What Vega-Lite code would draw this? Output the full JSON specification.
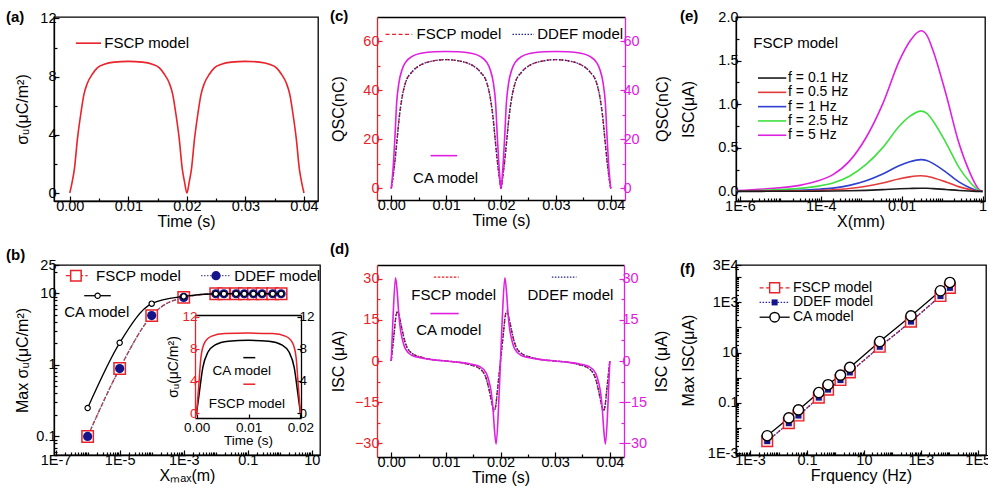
{
"$schema": "https://vega.github.io/schema/vega-lite/v6.json",
"padding": {"left": 5, "top": 8, "right": 0, "bottom": 0},
"columns": 3,
"align": "each",
"spacing": {"row": 11, "column": 9},
"config": {
  "font": "Liberation Sans",
  "view": {"stroke": "#000", "strokeWidth": 1.3},
  "axis": {"grid": false, "domainColor": "#000", "domainWidth": 1.3, "tickColor": "#000", "tickWidth": 1.2, "tickSize": -5, "labelFontSize": 14.5, "labelColor": "#000", "labelPadding": 3, "labelFlush": false, "labelOverlap": false, "labelBound": false, "titleFontSize": 16, "titleFontWeight": "normal", "titleColor": "#000"},
  "axisX": {"titlePadding": 1},
  "title": {"fontSize": 15, "fontWeight": "bold", "anchor": "start", "frame": "bounds", "color": "#000"},
  "text": {"fontSize": 15, "color": "#000"}
},
"datasets": {
  "a": [{"t":0,"v":0},{"t":0.0004,"v":0.75},{"t":0.0008,"v":1.7},{"t":0.0013,"v":3.7},{"t":0.0019,"v":5.5},{"t":0.0024,"v":6.75},{"t":0.003,"v":7.55},{"t":0.0039,"v":8.2},{"t":0.0047,"v":8.6},{"t":0.0059,"v":8.85},{"t":0.0076,"v":9.0},{"t":0.01,"v":9.05},{"t":0.0124,"v":9.0},{"t":0.0141,"v":8.85},{"t":0.0153,"v":8.6},{"t":0.0161,"v":8.2},{"t":0.017,"v":7.55},{"t":0.0176,"v":6.75},{"t":0.0181,"v":5.5},{"t":0.0187,"v":3.7},{"t":0.0192,"v":1.7},{"t":0.0196,"v":0.75},{"t":0.02,"v":0},{"t":0.0204,"v":0.75},{"t":0.0208,"v":1.7},{"t":0.0213,"v":3.7},{"t":0.0219,"v":5.5},{"t":0.0224,"v":6.75},{"t":0.023,"v":7.55},{"t":0.0239,"v":8.2},{"t":0.0247,"v":8.6},{"t":0.0259,"v":8.85},{"t":0.0276,"v":9.0},{"t":0.03,"v":9.05},{"t":0.0324,"v":9.0},{"t":0.0341,"v":8.85},{"t":0.0353,"v":8.6},{"t":0.0361,"v":8.2},{"t":0.037,"v":7.55},{"t":0.0376,"v":6.75},{"t":0.0381,"v":5.5},{"t":0.0387,"v":3.7},{"t":0.0392,"v":1.7},{"t":0.0396,"v":0.75},{"t":0.04,"v":0}],
  "c": [
    {"model":"CA","t":0,"q":0},{"model":"CA","t":0.0003,"q":7.2},{"model":"CA","t":0.00067,"q":21},{"model":"CA","t":0.00098,"q":34.9},{"model":"CA","t":0.0014,"q":43.2},{"model":"CA","t":0.002,"q":48.7},{"model":"CA","t":0.0026,"q":51.5},{"model":"CA","t":0.0038,"q":53.9},{"model":"CA","t":0.0057,"q":55.3},{"model":"CA","t":0.0078,"q":55.8},{"model":"CA","t":0.01,"q":55.9},{"model":"CA","t":0.0122,"q":55.8},{"model":"CA","t":0.0143,"q":55.3},{"model":"CA","t":0.0162,"q":53.9},{"model":"CA","t":0.0174,"q":51.5},{"model":"CA","t":0.018,"q":48.7},{"model":"CA","t":0.0186,"q":43.2},{"model":"CA","t":0.01902,"q":34.9},{"model":"CA","t":0.01933,"q":21},{"model":"CA","t":0.0197,"q":7.2},{"model":"CA","t":0.02,"q":0},{"model":"CA","t":0.0203,"q":7.2},{"model":"CA","t":0.02067,"q":21},{"model":"CA","t":0.02098,"q":34.9},{"model":"CA","t":0.0214,"q":43.2},{"model":"CA","t":0.022,"q":48.7},{"model":"CA","t":0.0226,"q":51.5},{"model":"CA","t":0.0238,"q":53.9},{"model":"CA","t":0.0257,"q":55.3},{"model":"CA","t":0.0278,"q":55.8},{"model":"CA","t":0.03,"q":55.9},{"model":"CA","t":0.0322,"q":55.8},{"model":"CA","t":0.0343,"q":55.3},{"model":"CA","t":0.0362,"q":53.9},{"model":"CA","t":0.0374,"q":51.5},{"model":"CA","t":0.038,"q":48.7},{"model":"CA","t":0.0386,"q":43.2},{"model":"CA","t":0.03902,"q":34.9},{"model":"CA","t":0.03933,"q":21},{"model":"CA","t":0.0397,"q":7.2},{"model":"CA","t":0.04,"q":0},
    {"model":"FSCP","t":0,"q":0},{"model":"FSCP","t":0.0003,"q":4.4},{"model":"FSCP","t":0.00067,"q":11.3},{"model":"FSCP","t":0.0011,"q":21},{"model":"FSCP","t":0.0014,"q":27.9},{"model":"FSCP","t":0.002,"q":37.6},{"model":"FSCP","t":0.0026,"q":43.2},{"model":"FSCP","t":0.0038,"q":47.6},{"model":"FSCP","t":0.0057,"q":50.8},{"model":"FSCP","t":0.0075,"q":52},{"model":"FSCP","t":0.01,"q":52.6},{"model":"FSCP","t":0.0125,"q":52},{"model":"FSCP","t":0.0143,"q":50.8},{"model":"FSCP","t":0.0162,"q":47.6},{"model":"FSCP","t":0.0174,"q":43.2},{"model":"FSCP","t":0.018,"q":37.6},{"model":"FSCP","t":0.0186,"q":27.9},{"model":"FSCP","t":0.0189,"q":21},{"model":"FSCP","t":0.01933,"q":11.3},{"model":"FSCP","t":0.0197,"q":4.4},{"model":"FSCP","t":0.02,"q":0},{"model":"FSCP","t":0.0203,"q":4.4},{"model":"FSCP","t":0.02067,"q":11.3},{"model":"FSCP","t":0.0211,"q":21},{"model":"FSCP","t":0.0214,"q":27.9},{"model":"FSCP","t":0.022,"q":37.6},{"model":"FSCP","t":0.0226,"q":43.2},{"model":"FSCP","t":0.0238,"q":47.6},{"model":"FSCP","t":0.0257,"q":50.8},{"model":"FSCP","t":0.0275,"q":52},{"model":"FSCP","t":0.03,"q":52.6},{"model":"FSCP","t":0.0325,"q":52},{"model":"FSCP","t":0.0343,"q":50.8},{"model":"FSCP","t":0.0362,"q":47.6},{"model":"FSCP","t":0.0374,"q":43.2},{"model":"FSCP","t":0.038,"q":37.6},{"model":"FSCP","t":0.0386,"q":27.9},{"model":"FSCP","t":0.0389,"q":21},{"model":"FSCP","t":0.03933,"q":11.3},{"model":"FSCP","t":0.0397,"q":4.4},{"model":"FSCP","t":0.04,"q":0},
    {"model":"DDEF","t":0,"q":0},{"model":"DDEF","t":0.0003,"q":4.4},{"model":"DDEF","t":0.00067,"q":11.3},{"model":"DDEF","t":0.0011,"q":21},{"model":"DDEF","t":0.0014,"q":27.9},{"model":"DDEF","t":0.002,"q":37.6},{"model":"DDEF","t":0.0026,"q":43.2},{"model":"DDEF","t":0.0038,"q":47.6},{"model":"DDEF","t":0.0057,"q":50.8},{"model":"DDEF","t":0.0075,"q":52},{"model":"DDEF","t":0.01,"q":52.6},{"model":"DDEF","t":0.0125,"q":52},{"model":"DDEF","t":0.0143,"q":50.8},{"model":"DDEF","t":0.0162,"q":47.6},{"model":"DDEF","t":0.0174,"q":43.2},{"model":"DDEF","t":0.018,"q":37.6},{"model":"DDEF","t":0.0186,"q":27.9},{"model":"DDEF","t":0.0189,"q":21},{"model":"DDEF","t":0.01933,"q":11.3},{"model":"DDEF","t":0.0197,"q":4.4},{"model":"DDEF","t":0.02,"q":0},{"model":"DDEF","t":0.0203,"q":4.4},{"model":"DDEF","t":0.02067,"q":11.3},{"model":"DDEF","t":0.0211,"q":21},{"model":"DDEF","t":0.0214,"q":27.9},{"model":"DDEF","t":0.022,"q":37.6},{"model":"DDEF","t":0.0226,"q":43.2},{"model":"DDEF","t":0.0238,"q":47.6},{"model":"DDEF","t":0.0257,"q":50.8},{"model":"DDEF","t":0.0275,"q":52},{"model":"DDEF","t":0.03,"q":52.6},{"model":"DDEF","t":0.0325,"q":52},{"model":"DDEF","t":0.0343,"q":50.8},{"model":"DDEF","t":0.0362,"q":47.6},{"model":"DDEF","t":0.0374,"q":43.2},{"model":"DDEF","t":0.038,"q":37.6},{"model":"DDEF","t":0.0386,"q":27.9},{"model":"DDEF","t":0.0389,"q":21},{"model":"DDEF","t":0.03933,"q":11.3},{"model":"DDEF","t":0.0397,"q":4.4},{"model":"DDEF","t":0.04,"q":0}
  ],
  "d": [
    {"model":"CA","t":0,"i":0},{"model":"CA","t":0.0003,"i":14.3},{"model":"CA","t":0.0008,"i":30.3},{"model":"CA","t":0.0011,"i":25.2},{"model":"CA","t":0.0014,"i":16.7},{"model":"CA","t":0.0017,"i":11.3},{"model":"CA","t":0.002,"i":8.3},{"model":"CA","t":0.0026,"i":4.4},{"model":"CA","t":0.0038,"i":2.0},{"model":"CA","t":0.0057,"i":1.0},{"model":"CA","t":0.0075,"i":0.5},{"model":"CA","t":0.01,"i":0},{"model":"CA","t":0.0125,"i":-0.5},{"model":"CA","t":0.0143,"i":-1.0},{"model":"CA","t":0.0162,"i":-2.0},{"model":"CA","t":0.0174,"i":-4.4},{"model":"CA","t":0.018,"i":-8.3},{"model":"CA","t":0.0183,"i":-11.3},{"model":"CA","t":0.0186,"i":-16.7},{"model":"CA","t":0.0189,"i":-25.2},{"model":"CA","t":0.0192,"i":-30.3},{"model":"CA","t":0.0197,"i":-14.3},{"model":"CA","t":0.02,"i":0},{"model":"CA","t":0.0203,"i":14.3},{"model":"CA","t":0.0208,"i":30.3},{"model":"CA","t":0.0211,"i":25.2},{"model":"CA","t":0.0214,"i":16.7},{"model":"CA","t":0.0217,"i":11.3},{"model":"CA","t":0.022,"i":8.3},{"model":"CA","t":0.0226,"i":4.4},{"model":"CA","t":0.0238,"i":2.0},{"model":"CA","t":0.0257,"i":1.0},{"model":"CA","t":0.0275,"i":0.5},{"model":"CA","t":0.03,"i":0},{"model":"CA","t":0.0325,"i":-0.5},{"model":"CA","t":0.0343,"i":-1.0},{"model":"CA","t":0.0362,"i":-2.0},{"model":"CA","t":0.0374,"i":-4.4},{"model":"CA","t":0.038,"i":-8.3},{"model":"CA","t":0.0383,"i":-11.3},{"model":"CA","t":0.0386,"i":-16.7},{"model":"CA","t":0.0389,"i":-25.2},{"model":"CA","t":0.0392,"i":-30.3},{"model":"CA","t":0.0397,"i":-14.3},{"model":"CA","t":0.04,"i":0},
    {"model":"FSCP","t":0,"i":0},{"model":"FSCP","t":0.0005,"i":9.5},{"model":"FSCP","t":0.0009,"i":16.7},{"model":"FSCP","t":0.0012,"i":18.2},{"model":"FSCP","t":0.0015,"i":16.1},{"model":"FSCP","t":0.002,"i":11.3},{"model":"FSCP","t":0.0026,"i":6.5},{"model":"FSCP","t":0.0038,"i":2.8},{"model":"FSCP","t":0.0057,"i":1.3},{"model":"FSCP","t":0.0075,"i":0.5},{"model":"FSCP","t":0.01,"i":0},{"model":"FSCP","t":0.0125,"i":-0.5},{"model":"FSCP","t":0.0143,"i":-1.3},{"model":"FSCP","t":0.0162,"i":-2.8},{"model":"FSCP","t":0.0174,"i":-6.5},{"model":"FSCP","t":0.018,"i":-11.3},{"model":"FSCP","t":0.0185,"i":-16.1},{"model":"FSCP","t":0.0188,"i":-18.2},{"model":"FSCP","t":0.0191,"i":-16.7},{"model":"FSCP","t":0.0195,"i":-9.5},{"model":"FSCP","t":0.02,"i":0},{"model":"FSCP","t":0.0205,"i":9.5},{"model":"FSCP","t":0.0209,"i":16.7},{"model":"FSCP","t":0.0212,"i":18.2},{"model":"FSCP","t":0.0215,"i":16.1},{"model":"FSCP","t":0.022,"i":11.3},{"model":"FSCP","t":0.0226,"i":6.5},{"model":"FSCP","t":0.0238,"i":2.8},{"model":"FSCP","t":0.0257,"i":1.3},{"model":"FSCP","t":0.0275,"i":0.5},{"model":"FSCP","t":0.03,"i":0},{"model":"FSCP","t":0.0325,"i":-0.5},{"model":"FSCP","t":0.0343,"i":-1.3},{"model":"FSCP","t":0.0362,"i":-2.8},{"model":"FSCP","t":0.0374,"i":-6.5},{"model":"FSCP","t":0.038,"i":-11.3},{"model":"FSCP","t":0.0385,"i":-16.1},{"model":"FSCP","t":0.0388,"i":-18.2},{"model":"FSCP","t":0.0391,"i":-16.7},{"model":"FSCP","t":0.0395,"i":-9.5},{"model":"FSCP","t":0.04,"i":0},
    {"model":"DDEF","t":0,"i":0},{"model":"DDEF","t":0.0005,"i":9.5},{"model":"DDEF","t":0.0009,"i":16.7},{"model":"DDEF","t":0.0012,"i":18.2},{"model":"DDEF","t":0.0015,"i":16.1},{"model":"DDEF","t":0.002,"i":11.3},{"model":"DDEF","t":0.0026,"i":6.5},{"model":"DDEF","t":0.0038,"i":2.8},{"model":"DDEF","t":0.0057,"i":1.3},{"model":"DDEF","t":0.0075,"i":0.5},{"model":"DDEF","t":0.01,"i":0},{"model":"DDEF","t":0.0125,"i":-0.5},{"model":"DDEF","t":0.0143,"i":-1.3},{"model":"DDEF","t":0.0162,"i":-2.8},{"model":"DDEF","t":0.0174,"i":-6.5},{"model":"DDEF","t":0.018,"i":-11.3},{"model":"DDEF","t":0.0185,"i":-16.1},{"model":"DDEF","t":0.0188,"i":-18.2},{"model":"DDEF","t":0.0191,"i":-16.7},{"model":"DDEF","t":0.0195,"i":-9.5},{"model":"DDEF","t":0.02,"i":0},{"model":"DDEF","t":0.0205,"i":9.5},{"model":"DDEF","t":0.0209,"i":16.7},{"model":"DDEF","t":0.0212,"i":18.2},{"model":"DDEF","t":0.0215,"i":16.1},{"model":"DDEF","t":0.022,"i":11.3},{"model":"DDEF","t":0.0226,"i":6.5},{"model":"DDEF","t":0.0238,"i":2.8},{"model":"DDEF","t":0.0257,"i":1.3},{"model":"DDEF","t":0.0275,"i":0.5},{"model":"DDEF","t":0.03,"i":0},{"model":"DDEF","t":0.0325,"i":-0.5},{"model":"DDEF","t":0.0343,"i":-1.3},{"model":"DDEF","t":0.0362,"i":-2.8},{"model":"DDEF","t":0.0374,"i":-6.5},{"model":"DDEF","t":0.038,"i":-11.3},{"model":"DDEF","t":0.0385,"i":-16.1},{"model":"DDEF","t":0.0388,"i":-18.2},{"model":"DDEF","t":0.0391,"i":-16.7},{"model":"DDEF","t":0.0395,"i":-9.5},{"model":"DDEF","t":0.04,"i":0}
  ],
  "b": [
    {"model":"FSCP","x":1e-6,"v":0.1},{"model":"FSCP","x":1e-5,"v":0.89},{"model":"FSCP","x":1e-4,"v":4.9},{"model":"FSCP","x":1e-3,"v":8.8},{"model":"FSCP","x":0.01,"v":9.9},{"model":"FSCP","x":0.018,"v":9.9},{"model":"FSCP","x":0.043,"v":9.9},{"model":"FSCP","x":0.078,"v":9.9},{"model":"FSCP","x":0.15,"v":9.9},{"model":"FSCP","x":0.28,"v":9.9},{"model":"FSCP","x":0.6,"v":9.9},{"model":"FSCP","x":1.1,"v":9.9},
    {"model":"DDEF","x":1e-6,"v":0.1},{"model":"DDEF","x":1e-5,"v":0.89},{"model":"DDEF","x":1e-4,"v":4.9},{"model":"DDEF","x":1e-3,"v":8.8},{"model":"DDEF","x":0.01,"v":9.9},{"model":"DDEF","x":0.018,"v":9.9},{"model":"DDEF","x":0.043,"v":9.9},{"model":"DDEF","x":0.078,"v":9.9},{"model":"DDEF","x":0.15,"v":9.9},{"model":"DDEF","x":0.28,"v":9.9},{"model":"DDEF","x":0.6,"v":9.9},{"model":"DDEF","x":1.1,"v":9.9},
    {"model":"CA","x":1e-6,"v":0.25},{"model":"CA","x":1e-5,"v":2.04},{"model":"CA","x":1e-4,"v":7.2},{"model":"CA","x":1e-3,"v":9.1},{"model":"CA","x":0.01,"v":9.9},{"model":"CA","x":0.018,"v":9.9},{"model":"CA","x":0.043,"v":9.9},{"model":"CA","x":0.078,"v":9.9},{"model":"CA","x":0.15,"v":9.9},{"model":"CA","x":0.28,"v":9.9},{"model":"CA","x":0.6,"v":9.9},{"model":"CA","x":1.1,"v":9.9}
  ],
  "binset": [
    {"model":"FSCP","t":0,"v":0},{"model":"FSCP","t":0.0004,"v":3.2},{"model":"FSCP","t":0.00084,"v":6.9},{"model":"FSCP","t":0.0015,"v":8.7},{"model":"FSCP","t":0.0028,"v":9.55},{"model":"FSCP","t":0.0054,"v":9.9},{"model":"FSCP","t":0.01,"v":9.95},{"model":"FSCP","t":0.0146,"v":9.9},{"model":"FSCP","t":0.0172,"v":9.55},{"model":"FSCP","t":0.0185,"v":8.7},{"model":"FSCP","t":0.01916,"v":6.9},{"model":"FSCP","t":0.0196,"v":3.2},{"model":"FSCP","t":0.02,"v":0},
    {"model":"CA","t":0,"v":0},{"model":"CA","t":0.0005,"v":2.4},{"model":"CA","t":0.0012,"v":5.65},{"model":"CA","t":0.0022,"v":7.6},{"model":"CA","t":0.0035,"v":8.45},{"model":"CA","t":0.0061,"v":8.95},{"model":"CA","t":0.01,"v":9.05},{"model":"CA","t":0.0139,"v":8.95},{"model":"CA","t":0.0165,"v":8.45},{"model":"CA","t":0.0178,"v":7.6},{"model":"CA","t":0.0188,"v":5.65},{"model":"CA","t":0.0195,"v":2.4},{"model":"CA","t":0.02,"v":0}
  ],
  "e": [
    {"f":"f = 5 Hz","x":8e-7,"i":0.01},{"f":"f = 5 Hz","x":4.5e-6,"i":0.03},{"f":"f = 5 Hz","x":3.0e-5,"i":0.069},{"f":"f = 5 Hz","x":7.8e-5,"i":0.116},{"f":"f = 5 Hz","x":2.0e-4,"i":0.193},{"f":"f = 5 Hz","x":5.1e-4,"i":0.347},{"f":"f = 5 Hz","x":1.32e-3,"i":0.618},{"f":"f = 5 Hz","x":3.4e-3,"i":1.004},{"f":"f = 5 Hz","x":8.9e-3,"i":1.506},{"f":"f = 5 Hz","x":0.0158,"i":1.72},{"f":"f = 5 Hz","x":0.03,"i":1.842},{"f":"f = 5 Hz","x":0.042,"i":1.79},{"f":"f = 5 Hz","x":0.059,"i":1.622},{"f":"f = 5 Hz","x":0.124,"i":1.119},{"f":"f = 5 Hz","x":0.266,"i":0.54},{"f":"f = 5 Hz","x":0.468,"i":0.232},{"f":"f = 5 Hz","x":0.83,"i":0.019},{"f":"f = 5 Hz","x":1.0,"i":0},
    {"f":"f = 2.5 Hz","x":8e-7,"i":0.005},{"f":"f = 2.5 Hz","x":4.5e-6,"i":0.015},{"f":"f = 2.5 Hz","x":3.0e-5,"i":0.035},{"f":"f = 2.5 Hz","x":7.8e-5,"i":0.058},{"f":"f = 2.5 Hz","x":2.0e-4,"i":0.097},{"f":"f = 2.5 Hz","x":5.1e-4,"i":0.174},{"f":"f = 2.5 Hz","x":1.32e-3,"i":0.309},{"f":"f = 2.5 Hz","x":3.4e-3,"i":0.502},{"f":"f = 2.5 Hz","x":8.9e-3,"i":0.753},{"f":"f = 2.5 Hz","x":0.0158,"i":0.86},{"f":"f = 2.5 Hz","x":0.03,"i":0.921},{"f":"f = 2.5 Hz","x":0.042,"i":0.895},{"f":"f = 2.5 Hz","x":0.059,"i":0.811},{"f":"f = 2.5 Hz","x":0.124,"i":0.56},{"f":"f = 2.5 Hz","x":0.266,"i":0.27},{"f":"f = 2.5 Hz","x":0.468,"i":0.116},{"f":"f = 2.5 Hz","x":0.83,"i":0.01},{"f":"f = 2.5 Hz","x":1.0,"i":0},
    {"f":"f = 1 Hz","x":8e-7,"i":0.002},{"f":"f = 1 Hz","x":4.5e-6,"i":0.006},{"f":"f = 1 Hz","x":3.0e-5,"i":0.014},{"f":"f = 1 Hz","x":7.8e-5,"i":0.023},{"f":"f = 1 Hz","x":2.0e-4,"i":0.038},{"f":"f = 1 Hz","x":5.1e-4,"i":0.069},{"f":"f = 1 Hz","x":1.32e-3,"i":0.122},{"f":"f = 1 Hz","x":3.4e-3,"i":0.199},{"f":"f = 1 Hz","x":8.9e-3,"i":0.298},{"f":"f = 1 Hz","x":0.0158,"i":0.341},{"f":"f = 1 Hz","x":0.03,"i":0.365},{"f":"f = 1 Hz","x":0.042,"i":0.354},{"f":"f = 1 Hz","x":0.059,"i":0.321},{"f":"f = 1 Hz","x":0.124,"i":0.222},{"f":"f = 1 Hz","x":0.266,"i":0.107},{"f":"f = 1 Hz","x":0.468,"i":0.046},{"f":"f = 1 Hz","x":0.83,"i":0.004},{"f":"f = 1 Hz","x":1.0,"i":0},
    {"f":"f = 0.5 Hz","x":8e-7,"i":0.001},{"f":"f = 0.5 Hz","x":4.5e-6,"i":0.003},{"f":"f = 0.5 Hz","x":3.0e-5,"i":0.007},{"f":"f = 0.5 Hz","x":7.8e-5,"i":0.011},{"f":"f = 0.5 Hz","x":2.0e-4,"i":0.019},{"f":"f = 0.5 Hz","x":5.1e-4,"i":0.034},{"f":"f = 0.5 Hz","x":1.32e-3,"i":0.06},{"f":"f = 0.5 Hz","x":3.4e-3,"i":0.097},{"f":"f = 0.5 Hz","x":8.9e-3,"i":0.146},{"f":"f = 0.5 Hz","x":0.0158,"i":0.167},{"f":"f = 0.5 Hz","x":0.03,"i":0.179},{"f":"f = 0.5 Hz","x":0.042,"i":0.174},{"f":"f = 0.5 Hz","x":0.059,"i":0.157},{"f":"f = 0.5 Hz","x":0.124,"i":0.109},{"f":"f = 0.5 Hz","x":0.266,"i":0.052},{"f":"f = 0.5 Hz","x":0.468,"i":0.023},{"f":"f = 0.5 Hz","x":0.83,"i":0.002},{"f":"f = 0.5 Hz","x":1.0,"i":0},
    {"f":"f = 0.1 Hz","x":8e-7,"i":0},{"f":"f = 0.1 Hz","x":4.5e-6,"i":0.001},{"f":"f = 0.1 Hz","x":3.0e-5,"i":0.001},{"f":"f = 0.1 Hz","x":7.8e-5,"i":0.002},{"f":"f = 0.1 Hz","x":2.0e-4,"i":0.004},{"f":"f = 0.1 Hz","x":5.1e-4,"i":0.007},{"f":"f = 0.1 Hz","x":1.32e-3,"i":0.012},{"f":"f = 0.1 Hz","x":3.4e-3,"i":0.02},{"f":"f = 0.1 Hz","x":8.9e-3,"i":0.03},{"f":"f = 0.1 Hz","x":0.0158,"i":0.034},{"f":"f = 0.1 Hz","x":0.03,"i":0.037},{"f":"f = 0.1 Hz","x":0.042,"i":0.036},{"f":"f = 0.1 Hz","x":0.059,"i":0.032},{"f":"f = 0.1 Hz","x":0.124,"i":0.022},{"f":"f = 0.1 Hz","x":0.266,"i":0.011},{"f":"f = 0.1 Hz","x":0.468,"i":0.005},{"f":"f = 0.1 Hz","x":0.83,"i":0},{"f":"f = 0.1 Hz","x":1.0,"i":0}
  ],
  "f": [
    {"model":"FSCP","freq":0.004,"i":0.00306},{"model":"FSCP","freq":0.023,"i":0.0158},{"model":"FSCP","freq":0.05,"i":0.0318},{"model":"FSCP","freq":0.26,"i":0.163},{"model":"FSCP","freq":0.55,"i":0.339},{"model":"FSCP","freq":1.5,"i":0.813},{"model":"FSCP","freq":3.2,"i":1.63},{"model":"FSCP","freq":36,"i":17},{"model":"FSCP","freq":450,"i":170},{"model":"FSCP","freq":4900,"i":1758},{"model":"FSCP","freq":10500,"i":3715},
    {"model":"DDEF","freq":0.004,"i":0.00306},{"model":"DDEF","freq":0.023,"i":0.0158},{"model":"DDEF","freq":0.05,"i":0.0318},{"model":"DDEF","freq":0.26,"i":0.163},{"model":"DDEF","freq":0.55,"i":0.339},{"model":"DDEF","freq":1.5,"i":0.813},{"model":"DDEF","freq":3.2,"i":1.63},{"model":"DDEF","freq":36,"i":17},{"model":"DDEF","freq":450,"i":170},{"model":"DDEF","freq":4900,"i":1758},{"model":"DDEF","freq":10500,"i":3715},
    {"model":"CA","freq":0.004,"i":0.005},{"model":"CA","freq":0.023,"i":0.0255},{"model":"CA","freq":0.05,"i":0.053},{"model":"CA","freq":0.26,"i":0.26},{"model":"CA","freq":0.55,"i":0.53},{"model":"CA","freq":1.5,"i":1.28},{"model":"CA","freq":3.2,"i":2.58},{"model":"CA","freq":36,"i":27.5},{"model":"CA","freq":450,"i":285},{"model":"CA","freq":4900,"i":2850},{"model":"CA","freq":10500,"i":6070}
  ]
},
"concat": [
  {
    "width": 264, "height": 184,
    "title": {"text": "(a)", "offset": -15, "dx": -8},
    "layer": [
      {"data": {"name": "a"},
       "mark": {"type": "line", "color": "#e8232a", "strokeWidth": 1.6, "interpolate": "monotone"},
       "encoding": {
         "x": {"field": "t", "type": "quantitative", "scale": {"domain": [-0.0027, 0.0424], "nice": false, "zero": false}, "axis": {"orient": "bottom", "values": [0, 0.01, 0.02, 0.03, 0.04], "format": ".2f", "title": "Time (s)"}},
         "y": {"field": "v", "type": "quantitative", "scale": {"domain": [-0.55, 12.1], "nice": false, "zero": false}, "axis": {"orient": "left", "values": [0, 4, 8, 12], "title": "σᵤ(μC/m²)", "minExtent": 22, "maxExtent": 22, "titlePadding": 2}}
       }},
      {"data": {"values": [{"label": "FSCP model"}]},
       "mark": {"type": "rule", "color": "#e8232a", "strokeWidth": 1.6},
       "encoding": {"x": {"datum": 0.00103, "type": "quantitative", "axis": {"orient": "bottom", "values": [0.005, 0.015, 0.025, 0.035], "labels": false, "domain": false, "title": null, "tickSize": -3, "minExtent": 0}}, "x2": {"datum": 0.00533}, "y": {"datum": 10.3, "type": "quantitative", "axis": {"orient": "left", "values": [2, 6, 10], "labels": false, "domain": false, "title": null, "tickSize": -3, "minExtent": 0}}}},
      {"data": {"values": [{"label": "FSCP model"}]},
       "mark": {"type": "text", "align": "left", "baseline": "middle", "fontSize": 15},
       "encoding": {"x": {"datum": 0.0059, "type": "quantitative", "axis": null}, "y": {"datum": 10.3, "type": "quantitative", "axis": null}, "text": {"field": "label"}}}
    ],
    "resolve": {"axis": {"x": "independent", "y": "independent"}}
  },
  {
    "width": 248, "height": 183,
    "title": {"text": "(c)", "offset": -6.5},
    "view": {"stroke": null},
    "data": {"name": "c"},
    "layer": [
      {"transform": [{"filter": "datum.model == 'FSCP'"}],
       "mark": {"type": "line", "color": "#e8232a", "strokeDash": [4, 2.5], "strokeWidth": 1.4, "interpolate": "monotone"},
       "encoding": {
         "x": {"field": "t", "type": "quantitative", "scale": {"domain": [-0.0026, 0.0426], "nice": false, "zero": false}, "axis": {"orient": "bottom", "values": [0, 0.01, 0.02, 0.03, 0.04], "format": ".2f", "title": "Time (s)"}},
         "y": {"field": "q", "type": "quantitative", "scale": {"domain": [-4.7, 70], "nice": false, "zero": false}, "axis": {"orient": "left", "values": [0, 20, 40, 60], "title": "QSC(nC)", "domainColor": "#e8232a", "tickColor": "#e8232a", "labelColor": "#e8232a", "minExtent": 26, "maxExtent": 26, "titlePadding": 5}}
       }},
      {"transform": [{"filter": "datum.model == 'DDEF'"}],
       "mark": {"type": "line", "color": "#22228c", "strokeDash": [1.5, 1.5], "strokeWidth": 1.4, "interpolate": "monotone"},
       "encoding": {
         "x": {"field": "t", "type": "quantitative", "axis": null},
         "y": {"field": "q", "type": "quantitative", "axis": null}
       }},
      {"transform": [{"filter": "datum.model == 'CA'"}],
       "mark": {"type": "line", "color": "#e020e0", "strokeWidth": 1.6, "interpolate": "monotone"},
       "encoding": {
         "x": {"field": "t", "type": "quantitative", "axis": {"orient": "top", "labels": false, "ticks": false, "title": null}},
         "y": {"field": "q", "type": "quantitative", "axis": {"orient": "right", "values": [0, 20, 40, 60], "title": "QSC(nC)", "domainColor": "#e020e0", "tickColor": "#e020e0", "labelColor": "#e020e0", "minExtent": 26, "maxExtent": 26, "titlePadding": 3, "titleAngle": -90, "titleBaseline": "top"}}
       }},
      {"data": {"values": [{"label": "FSCP model"}]},
       "mark": {"type": "rule", "color": "#e8232a", "strokeDash": [4, 2.5], "strokeWidth": 1.4},
       "encoding": {"x": {"datum": -0.00104, "type": "quantitative", "axis": {"orient": "bottom", "values": [0.005, 0.015, 0.025, 0.035], "labels": false, "domain": false, "title": null, "tickSize": -3, "minExtent": 0}}, "x2": {"datum": 0.00383}, "y": {"datum": 62.9, "type": "quantitative", "axis": {"orient": "left", "values": [10, 30, 50], "labels": false, "domain": false, "title": null, "tickSize": -3, "tickColor": "#e8232a", "minExtent": 0}}}},
      {"data": {"values": [{"label": "FSCP model"}]},
       "mark": {"type": "text", "align": "left", "baseline": "middle"},
       "encoding": {"x": {"datum": 0.0046, "type": "quantitative", "axis": null}, "y": {"datum": 62.9, "type": "quantitative", "axis": {"orient": "right", "values": [10, 30, 50], "labels": false, "domain": false, "title": null, "tickSize": -3, "tickColor": "#e020e0", "minExtent": 0}}, "text": {"field": "label"}}},
      {"data": {"values": [{"label": "DDEF model"}]},
       "mark": {"type": "rule", "color": "#22228c", "strokeDash": [1.5, 1.5], "strokeWidth": 1.4},
       "encoding": {"x": {"datum": 0.0221, "type": "quantitative", "axis": null}, "x2": {"datum": 0.026}, "y": {"datum": 62.9, "type": "quantitative", "axis": null}}},
      {"data": {"values": [{"label": "DDEF model"}]},
       "mark": {"type": "text", "align": "left", "baseline": "middle"},
       "encoding": {"x": {"datum": 0.0266, "type": "quantitative", "axis": null}, "y": {"datum": 62.9, "type": "quantitative", "axis": null}, "text": {"field": "label"}}},
      {"data": {"values": [{"label": "CA model"}]},
       "mark": {"type": "rule", "color": "#e020e0", "strokeWidth": 1.6},
       "encoding": {"x": {"datum": 0.00717, "type": "quantitative", "axis": null}, "x2": {"datum": 0.012}, "y": {"datum": 13.4, "type": "quantitative", "axis": null}}},
      {"data": {"values": [{"label": "CA model"}]},
       "mark": {"type": "text", "align": "center", "baseline": "middle"},
       "encoding": {"x": {"datum": 0.0099, "type": "quantitative", "axis": null}, "y": {"datum": 4.4, "type": "quantitative", "axis": null}, "text": {"field": "label"}}}
    ],
    "resolve": {"axis": {"x": "independent", "y": "independent"}}
  },
  {
    "width": 249, "height": 184,
    "title": {"text": "(e)", "offset": -15},
    "layer": [
      {"data": {"name": "e"},
       "mark": {"type": "line", "strokeWidth": 1.6, "interpolate": "monotone"},
       "encoding": {
         "x": {"field": "x", "type": "quantitative", "scale": {"type": "log", "domain": [8e-7, 1.15], "nice": false}, "axis": {"orient": "bottom", "values": [1e-6, 1e-4, 0.01, 1], "labelExpr": "datum.value < 0.001 ? '1E' + round(log(datum.value) / LN10) : format(datum.value, '~g')", "title": "X(mm)"}},
         "y": {"field": "i", "type": "quantitative", "scale": {"domain": [-0.11, 2.0], "nice": false, "zero": false}, "axis": {"orient": "left", "values": [0, 0.5, 1, 1.5, 2], "format": ".1f", "title": "ISC(μA)", "minExtent": 34, "maxExtent": 34, "titlePadding": 6}},
         "color": {"field": "f", "type": "nominal", "scale": {"domain": ["f = 0.1 Hz", "f = 0.5 Hz", "f = 1 Hz", "f = 2.5 Hz", "f = 5 Hz"], "range": ["#1a1a1a", "#e33b3b", "#2f3fd0", "#3fe03f", "#e020e0"]}, "legend": null}
       }},
      {"data": {"values": [{"label": "FSCP model"}]},
       "mark": {"type": "text", "align": "left", "baseline": "middle"},
       "encoding": {"x": {"datum": 2.14e-6, "type": "quantitative", "axis": {"orient": "bottom", "values": [9e-7,2e-6,3e-6,4e-6,5e-6,6e-6,7e-6,8e-6,9e-6,1e-5,2e-5,3e-5,4e-5,5e-5,6e-5,7e-5,8e-5,9e-5,2e-4,3e-4,4e-4,5e-4,6e-4,7e-4,8e-4,9e-4,1e-3,2e-3,3e-3,4e-3,5e-3,6e-3,7e-3,8e-3,9e-3,0.02,0.03,0.04,0.05,0.06,0.07,0.08,0.09,0.1,0.2,0.3,0.4,0.5,0.6,0.7,0.8,0.9], "labels": false, "domain": false, "title": null, "tickSize": -3, "minExtent": 0}}, "y": {"datum": 1.70, "type": "quantitative", "axis": {"orient": "left", "values": [0.25, 0.75, 1.25, 1.75], "labels": false, "domain": false, "title": null, "tickSize": -3, "minExtent": 0}}, "text": {"field": "label"}}},
      {"data": {"values": [{"label": "f = 0.1 Hz"}]},
       "mark": {"type": "rule", "color": "#1a1a1a", "strokeWidth": 1.6},
       "encoding": {"x": {"datum": 2.8e-6, "type": "quantitative", "axis": null}, "x2": {"datum": 1.4e-5}, "y": {"datum": 1.30, "type": "quantitative", "axis": null}}},
      {"data": {"values": [{"label": "f = 0.1 Hz"}]},
       "mark": {"type": "text", "align": "left", "baseline": "middle", "fontSize": 14},
       "encoding": {"x": {"datum": 1.55e-5, "type": "quantitative", "axis": null}, "y": {"datum": 1.30, "type": "quantitative", "axis": null}, "text": {"field": "label"}}},
      {"data": {"values": [{"label": "f = 0.5 Hz"}]},
       "mark": {"type": "rule", "color": "#e33b3b", "strokeWidth": 1.6},
       "encoding": {"x": {"datum": 2.8e-6, "type": "quantitative", "axis": null}, "x2": {"datum": 1.4e-5}, "y": {"datum": 1.136, "type": "quantitative", "axis": null}}},
      {"data": {"values": [{"label": "f = 0.5 Hz"}]},
       "mark": {"type": "text", "align": "left", "baseline": "middle", "fontSize": 14},
       "encoding": {"x": {"datum": 1.55e-5, "type": "quantitative", "axis": null}, "y": {"datum": 1.136, "type": "quantitative", "axis": null}, "text": {"field": "label"}}},
      {"data": {"values": [{"label": "f = 1 Hz"}]},
       "mark": {"type": "rule", "color": "#2f3fd0", "strokeWidth": 1.6},
       "encoding": {"x": {"datum": 2.8e-6, "type": "quantitative", "axis": null}, "x2": {"datum": 1.4e-5}, "y": {"datum": 0.972, "type": "quantitative", "axis": null}}},
      {"data": {"values": [{"label": "f = 1 Hz"}]},
       "mark": {"type": "text", "align": "left", "baseline": "middle", "fontSize": 14},
       "encoding": {"x": {"datum": 1.55e-5, "type": "quantitative", "axis": null}, "y": {"datum": 0.972, "type": "quantitative", "axis": null}, "text": {"field": "label"}}},
      {"data": {"values": [{"label": "f = 2.5 Hz"}]},
       "mark": {"type": "rule", "color": "#3fe03f", "strokeWidth": 1.6},
       "encoding": {"x": {"datum": 2.8e-6, "type": "quantitative", "axis": null}, "x2": {"datum": 1.4e-5}, "y": {"datum": 0.808, "type": "quantitative", "axis": null}}},
      {"data": {"values": [{"label": "f = 2.5 Hz"}]},
       "mark": {"type": "text", "align": "left", "baseline": "middle", "fontSize": 14},
       "encoding": {"x": {"datum": 1.55e-5, "type": "quantitative", "axis": null}, "y": {"datum": 0.808, "type": "quantitative", "axis": null}, "text": {"field": "label"}}},
      {"data": {"values": [{"label": "f = 5 Hz"}]},
       "mark": {"type": "rule", "color": "#e020e0", "strokeWidth": 1.6},
       "encoding": {"x": {"datum": 2.8e-6, "type": "quantitative", "axis": null}, "x2": {"datum": 1.4e-5}, "y": {"datum": 0.644, "type": "quantitative", "axis": null}}},
      {"data": {"values": [{"label": "f = 5 Hz"}]},
       "mark": {"type": "text", "align": "left", "baseline": "middle", "fontSize": 14},
       "encoding": {"x": {"datum": 1.55e-5, "type": "quantitative", "axis": null}, "y": {"datum": 0.644, "type": "quantitative", "axis": null}, "text": {"field": "label"}}}
    ],
    "resolve": {"axis": {"x": "independent", "y": "independent"}}
  },
  {
    "width": 266, "height": 190,
    "title": {"text": "(b)", "offset": -5.5, "dx": -8},
    "layer": [
      {
        "data": {"name": "b"},
        "layer": [
          {"transform": [{"filter": "datum.model == 'FSCP'"}],
           "mark": {"type": "line", "color": "#e8232a", "strokeDash": [4, 2.5], "strokeWidth": 1.3, "interpolate": "monotone"},
           "encoding": {
             "x": {"field": "x", "type": "quantitative", "scale": {"type": "log", "domain": [8.9e-8, 18], "nice": false}, "axis": {"orient": "bottom", "values": [1e-7, 1e-5, 1e-3, 0.1, 10], "labelExpr": "datum.value < 0.01 ? '1E' + round(log(datum.value) / LN10) : format(datum.value, '~g')", "title": "Xₘₐₓ(m)"}},
             "y": {"field": "v", "type": "quantitative", "scale": {"type": "log", "domain": [0.055, 25], "nice": false}, "axis": {"orient": "left", "values": [0.1, 1, 10, 25], "format": "~g", "title": "Max σᵤ(μC/m²)", "minExtent": 22, "maxExtent": 22, "titlePadding": 2}}
           }},
          {"transform": [{"filter": "datum.model == 'DDEF'"}],
           "mark": {"type": "line", "color": "#5a5a8a", "strokeDash": [1.5, 1.5], "strokeWidth": 1.3, "interpolate": "monotone"},
           "encoding": {"x": {"field": "x", "type": "quantitative", "axis": null}, "y": {"field": "v", "type": "quantitative", "axis": null}}},
          {"transform": [{"filter": "datum.model == 'FSCP'"}],
           "mark": {"type": "point", "shape": "square", "filled": true, "fill": "#ffffff", "stroke": "#e8232a", "strokeWidth": 1.5, "size": 130, "opacity": 1},
           "encoding": {"x": {"field": "x", "type": "quantitative", "axis": null}, "y": {"field": "v", "type": "quantitative", "axis": null}}},
          {"transform": [{"filter": "datum.model == 'DDEF'"}],
           "mark": {"type": "point", "shape": "circle", "filled": true, "fill": "#15158a", "strokeWidth": 0, "size": 85, "opacity": 1},
           "encoding": {"x": {"field": "x", "type": "quantitative", "axis": null}, "y": {"field": "v", "type": "quantitative", "axis": null}}},
          {"transform": [{"filter": "datum.model == 'CA'"}],
           "mark": {"type": "line", "color": "#000000", "strokeWidth": 1.3, "interpolate": "monotone"},
           "encoding": {"x": {"field": "x", "type": "quantitative", "axis": null}, "y": {"field": "v", "type": "quantitative", "axis": null}}},
          {"transform": [{"filter": "datum.model == 'CA'"}],
           "mark": {"type": "point", "shape": "circle", "filled": true, "fill": "#ffffff", "stroke": "#000000", "strokeWidth": 1.2, "size": 28, "opacity": 1},
           "encoding": {"x": {"field": "x", "type": "quantitative", "axis": null}, "y": {"field": "v", "type": "quantitative", "axis": null}}},
          {"data": {"values": [{"label": "FSCP model"}]},
           "mark": {"type": "rule", "color": "#e8232a", "strokeDash": [4, 2.5], "strokeWidth": 1.3},
           "encoding": {"x": {"datum": 2.09e-7, "type": "quantitative", "axis": {"orient": "bottom", "values": [2e-7,3e-7,4e-7,5e-7,6e-7,7e-7,8e-7,9e-7,1e-6,2e-6,3e-6,4e-6,5e-6,6e-6,7e-6,8e-6,9e-6,2e-5,3e-5,4e-5,5e-5,6e-5,7e-5,8e-5,9e-5,1e-4,2e-4,3e-4,4e-4,5e-4,6e-4,7e-4,8e-4,9e-4,2e-3,3e-3,4e-3,5e-3,6e-3,7e-3,8e-3,9e-3,0.01,0.02,0.03,0.04,0.05,0.06,0.07,0.08,0.09,0.2,0.3,0.4,0.5,0.6,0.7,0.8,0.9,1,2,3,4,5,6,7,8,9], "labels": false, "domain": false, "title": null, "tickSize": -3, "minExtent": 0}}, "x2": {"datum": 1e-6}, "y": {"datum": 17.7, "type": "quantitative", "axis": {"orient": "left", "values": [0.06,0.07,0.08,0.09,0.2,0.3,0.4,0.5,0.6,0.7,0.8,0.9,2,3,4,5,6,7,8,9,20], "labels": false, "domain": false, "title": null, "tickSize": -3, "minExtent": 0}}}},
          {"data": {"values": [{"label": "FSCP model"}]},
           "mark": {"type": "point", "shape": "square", "filled": true, "fill": "#ffffff", "stroke": "#e8232a", "strokeWidth": 1.5, "size": 110, "opacity": 1},
           "encoding": {"x": {"datum": 4.3e-7, "type": "quantitative", "axis": null}, "y": {"datum": 17.7, "type": "quantitative", "axis": null}}},
          {"data": {"values": [{"label": "FSCP model"}]},
           "mark": {"type": "text", "align": "left", "baseline": "middle"},
           "encoding": {"x": {"datum": 1.83e-6, "type": "quantitative", "axis": null}, "y": {"datum": 17.7, "type": "quantitative", "axis": null}, "text": {"field": "label"}}},
          {"data": {"values": [{"label": "DDEF model"}]},
           "mark": {"type": "rule", "color": "#5a5a8a", "strokeDash": [1.5, 1.5], "strokeWidth": 1.3},
           "encoding": {"x": {"datum": 3.46e-3, "type": "quantitative", "axis": null}, "x2": {"datum": 0.03}, "y": {"datum": 17.7, "type": "quantitative", "axis": null}}},
          {"data": {"values": [{"label": "DDEF model"}]},
           "mark": {"type": "point", "shape": "circle", "filled": true, "fill": "#15158a", "strokeWidth": 0, "size": 85, "opacity": 1},
           "encoding": {"x": {"datum": 0.0102, "type": "quantitative", "axis": null}, "y": {"datum": 17.7, "type": "quantitative", "axis": null}}},
          {"data": {"values": [{"label": "DDEF model"}]},
           "mark": {"type": "text", "align": "left", "baseline": "middle"},
           "encoding": {"x": {"datum": 0.038, "type": "quantitative", "axis": null}, "y": {"datum": 17.7, "type": "quantitative", "axis": null}, "text": {"field": "label"}}},
          {"data": {"values": [{"label": "CA model"}]},
           "mark": {"type": "rule", "color": "#000000", "strokeWidth": 1.3},
           "encoding": {"x": {"datum": 7.8e-7, "type": "quantitative", "axis": null}, "x2": {"datum": 5.3e-6}, "y": {"datum": 9.3, "type": "quantitative", "axis": null}}},
          {"data": {"values": [{"label": "CA model"}]},
           "mark": {"type": "point", "shape": "circle", "filled": true, "fill": "#ffffff", "stroke": "#000000", "strokeWidth": 1.2, "size": 28, "opacity": 1},
           "encoding": {"x": {"datum": 2.05e-6, "type": "quantitative", "axis": null}, "y": {"datum": 9.3, "type": "quantitative", "axis": null}}},
          {"data": {"values": [{"label": "CA model"}]},
           "mark": {"type": "text", "align": "left", "baseline": "middle"},
           "encoding": {"x": {"datum": 1.86e-7, "type": "quantitative", "axis": null}, "y": {"datum": 5.5, "type": "quantitative", "axis": null}, "text": {"field": "label"}}}
        ],
        "resolve": {"axis": {"x": "independent", "y": "independent"}}
      },
      {
        "data": {"name": "binset"},
        "layer": [
          {"transform": [{"filter": "datum.model == 'CA'"}],
           "mark": {"type": "line", "color": "#000000", "strokeWidth": 1.5, "interpolate": "monotone"},
           "encoding": {
             "x": {"field": "t", "type": "quantitative", "scale": {"domain": [-0.0003, 0.0201], "range": [141, 247], "nice": false, "zero": false}, "axis": {"orient": "bottom", "offset": -37, "values": [0, 0.01, 0.02], "format": ".2f", "title": "Time (s)", "titleFontSize": 13.5, "labelFontSize": 13.5, "labelPadding": 6, "titlePadding": 0, "tickSize": -4}},
             "y": {"field": "v", "type": "quantitative", "scale": {"domain": [-0.6, 12.2], "range": [153, 50], "nice": false, "zero": false}, "axis": {"orient": "left", "offset": -141, "values": [0, 4, 8, 12], "title": "σᵤ(μC/m²)", "titleFontSize": 14, "labelFontSize": 13.5, "labelPadding": 2, "titlePadding": 1, "tickSize": -4, "domainColor": "#e8232a", "tickColor": "#e8232a", "labelColor": "#e8232a"}}
           }},
          {"transform": [{"filter": "datum.model == 'FSCP'"}],
           "mark": {"type": "line", "color": "#e8232a", "strokeWidth": 1.5, "interpolate": "monotone"},
           "encoding": {
             "x": {"field": "t", "type": "quantitative", "axis": {"orient": "top", "offset": -50, "labels": false, "ticks": false, "title": null}},
             "y": {"field": "v", "type": "quantitative", "axis": {"orient": "right", "offset": -19, "values": [0, 4, 8, 12], "title": null, "labelFontSize": 13.5, "labelPadding": 2, "tickSize": -4}}
           }},
          {"data": {"values": [{"label": "CA model"}]},
           "mark": {"type": "rule", "color": "#000000", "strokeWidth": 1.5},
           "encoding": {"x": {"datum": 0.009, "type": "quantitative", "axis": null}, "x2": {"datum": 0.0113}, "y": {"datum": 6.9, "type": "quantitative", "axis": null}}},
          {"data": {"values": [{"label": "CA model"}]},
           "mark": {"type": "text", "align": "center", "baseline": "middle", "fontSize": 13.5},
           "encoding": {"x": {"datum": 0.0087, "type": "quantitative", "axis": null}, "y": {"datum": 5.25, "type": "quantitative", "axis": null}, "text": {"field": "label"}}},
          {"data": {"values": [{"label": "FSCP model"}]},
           "mark": {"type": "rule", "color": "#e8232a", "strokeWidth": 1.5},
           "encoding": {"x": {"datum": 0.009, "type": "quantitative", "axis": null}, "x2": {"datum": 0.0113}, "y": {"datum": 3.6, "type": "quantitative", "axis": null}}},
          {"data": {"values": [{"label": "FSCP model"}]},
           "mark": {"type": "text", "align": "center", "baseline": "middle", "fontSize": 13.5},
           "encoding": {"x": {"datum": 0.0097, "type": "quantitative", "axis": null}, "y": {"datum": 1.15, "type": "quantitative", "axis": null}, "text": {"field": "label"}}}
        ],
        "resolve": {"axis": {"x": "independent", "y": "independent"}}
      }
    ],
    "resolve": {"scale": {"x": "independent", "y": "independent"}, "axis": {"x": "independent", "y": "independent"}}
  },
  {
    "width": 247, "height": 192,
    "title": {"text": "(d)", "offset": 0, "dy": -8},
    "view": {"stroke": null},
    "data": {"name": "d"},
    "layer": [
      {"transform": [{"filter": "datum.model == 'FSCP'"}],
       "mark": {"type": "line", "color": "#e8232a", "strokeDash": [4, 2.5], "strokeWidth": 1.4, "interpolate": "monotone"},
       "encoding": {
         "x": {"field": "t", "type": "quantitative", "scale": {"domain": [-0.0026, 0.0426], "nice": false, "zero": false}, "axis": {"orient": "bottom", "values": [0, 0.01, 0.02, 0.03, 0.04], "format": ".2f", "title": "Time (s)"}},
         "y": {"field": "i", "type": "quantitative", "scale": {"domain": [-35, 35], "nice": false, "zero": false}, "axis": {"orient": "left", "values": [-30, -15, 0, 15, 30], "title": "ISC (μA)", "domainColor": "#e8232a", "tickColor": "#e8232a", "labelColor": "#e8232a", "minExtent": 26, "maxExtent": 26, "titlePadding": 5}}
       }},
      {"transform": [{"filter": "datum.model == 'DDEF'"}],
       "mark": {"type": "line", "color": "#22228c", "strokeDash": [1.5, 1.5], "strokeWidth": 1.4, "interpolate": "monotone"},
       "encoding": {"x": {"field": "t", "type": "quantitative", "axis": null}, "y": {"field": "i", "type": "quantitative", "axis": null}}},
      {"transform": [{"filter": "datum.model == 'CA'"}],
       "mark": {"type": "line", "color": "#e020e0", "strokeWidth": 1.6, "interpolate": "monotone"},
       "encoding": {
         "x": {"field": "t", "type": "quantitative", "axis": {"orient": "top", "labels": false, "ticks": false, "title": null}},
         "y": {"field": "i", "type": "quantitative", "axis": {"orient": "right", "values": [-30, -15, 0, 15, 30], "title": "ISC (μA)", "domainColor": "#e020e0", "tickColor": "#e020e0", "labelColor": "#e020e0", "minExtent": 26, "maxExtent": 26, "titlePadding": 3, "titleAngle": -90, "titleBaseline": "top"}}
       }},
      {"data": {"values": [{"label": "FSCP model"}]},
       "mark": {"type": "rule", "color": "#e8232a", "strokeDash": [2.5, 1.5], "strokeWidth": 1.3},
       "encoding": {"x": {"datum": 0.0078, "type": "quantitative", "axis": {"orient": "bottom", "values": [0.005, 0.015, 0.025, 0.035], "labels": false, "domain": false, "title": null, "tickSize": -3, "minExtent": 0}}, "x2": {"datum": 0.01235}, "y": {"datum": 30.6, "type": "quantitative", "axis": {"orient": "left", "values": [-22.5, -7.5, 7.5, 22.5], "labels": false, "domain": false, "title": null, "tickSize": -3, "tickColor": "#e8232a", "minExtent": 0}}}},
      {"data": {"values": [{"label": "FSCP model"}]},
       "mark": {"type": "text", "align": "center", "baseline": "middle"},
       "encoding": {"x": {"datum": 0.01144, "type": "quantitative", "axis": null}, "y": {"datum": 24, "type": "quantitative", "axis": {"orient": "right", "values": [-22.5, -7.5, 7.5, 22.5], "labels": false, "domain": false, "title": null, "tickSize": -3, "tickColor": "#e020e0", "minExtent": 0}}, "text": {"field": "label"}}},
      {"data": {"values": [{"label": "DDEF model"}]},
       "mark": {"type": "rule", "color": "#22228c", "strokeDash": [1.5, 1.5], "strokeWidth": 1.3},
       "encoding": {"x": {"datum": 0.0294, "type": "quantitative", "axis": null}, "x2": {"datum": 0.0339}, "y": {"datum": 30.6, "type": "quantitative", "axis": null}}},
      {"data": {"values": [{"label": "DDEF model"}]},
       "mark": {"type": "text", "align": "center", "baseline": "middle"},
       "encoding": {"x": {"datum": 0.0328, "type": "quantitative", "axis": null}, "y": {"datum": 24, "type": "quantitative", "axis": null}, "text": {"field": "label"}}},
      {"data": {"values": [{"label": "CA model"}]},
       "mark": {"type": "rule", "color": "#e020e0", "strokeWidth": 1.6},
       "encoding": {"x": {"datum": 0.00717, "type": "quantitative", "axis": null}, "x2": {"datum": 0.01235}, "y": {"datum": 17.3, "type": "quantitative", "axis": null}}},
      {"data": {"values": [{"label": "CA model"}]},
       "mark": {"type": "text", "align": "center", "baseline": "middle"},
       "encoding": {"x": {"datum": 0.01053, "type": "quantitative", "axis": null}, "y": {"datum": 11.3, "type": "quantitative", "axis": null}, "text": {"field": "label"}}}
    ],
    "resolve": {"axis": {"x": "independent", "y": "independent"}}
  },
  {
    "width": 250, "height": 190,
    "title": {"text": "(f)", "offset": -19.5},
    "layer": [
      {"data": {"name": "f"}, "transform": [{"filter": "datum.model == 'FSCP'"}],
       "mark": {"type": "line", "color": "#e8232a", "strokeDash": [4, 2.5], "strokeWidth": 1.3},
       "encoding": {
         "x": {"field": "freq", "type": "quantitative", "scale": {"type": "log", "domain": [3.2e-4, 1.95e5], "nice": false}, "axis": {"orient": "bottom", "values": [1e-3, 0.1, 10, 1e3, 1e5], "labelExpr": "(datum.value < 0.01 || datum.value >= 1000) ? '1E' + round(log(datum.value) / LN10) : format(datum.value, '~g')", "title": "Frquency (Hz)"}},
         "y": {"field": "i", "type": "quantitative", "scale": {"type": "log", "domain": [8.6e-4, 3e4], "nice": false}, "axis": {"orient": "left", "values": [1e-3, 0.1, 10, 1e3, 3e4], "labelExpr": "datum.value > 20000 ? '3E4' : ((datum.value < 0.01 || datum.value >= 1000) ? '1E' + round(log(datum.value) / LN10) : format(datum.value, '~g'))", "title": "Max ISC(μA)", "minExtent": 34, "maxExtent": 34, "titlePadding": 6}}
       }},
      {"data": {"name": "f"}, "transform": [{"filter": "datum.model == 'DDEF'"}],
       "mark": {"type": "line", "color": "#2a2aa0", "strokeDash": [1.5, 1.5], "strokeWidth": 1.3},
       "encoding": {"x": {"field": "freq", "type": "quantitative", "axis": null}, "y": {"field": "i", "type": "quantitative", "axis": null}}},
      {"data": {"name": "f"}, "transform": [{"filter": "datum.model == 'CA'"}],
       "mark": {"type": "line", "color": "#000000", "strokeWidth": 1.3},
       "encoding": {"x": {"field": "freq", "type": "quantitative", "axis": null}, "y": {"field": "i", "type": "quantitative", "axis": null}}},
      {"data": {"name": "f"}, "transform": [{"filter": "datum.model == 'FSCP'"}],
       "mark": {"type": "point", "shape": "square", "filled": true, "fill": "#fbe3e3", "stroke": "#e8232a", "strokeWidth": 1.4, "size": 115, "opacity": 1},
       "encoding": {"x": {"field": "freq", "type": "quantitative", "axis": null}, "y": {"field": "i", "type": "quantitative", "axis": null}}},
      {"data": {"name": "f"}, "transform": [{"filter": "datum.model == 'DDEF'"}],
       "mark": {"type": "point", "shape": "square", "filled": true, "fill": "#15158a", "strokeWidth": 0, "size": 36, "opacity": 1},
       "encoding": {"x": {"field": "freq", "type": "quantitative", "axis": null}, "y": {"field": "i", "type": "quantitative", "axis": null}}},
      {"data": {"name": "f"}, "transform": [{"filter": "datum.model == 'CA'"}],
       "mark": {"type": "point", "shape": "circle", "filled": true, "fill": "#ffffff", "stroke": "#000000", "strokeWidth": 1.4, "size": 105, "opacity": 1},
       "encoding": {"x": {"field": "freq", "type": "quantitative", "axis": null}, "y": {"field": "i", "type": "quantitative", "axis": null}}},
      {"data": {"values": [{"label": "FSCP model"}]},
       "mark": {"type": "rule", "color": "#e8232a", "strokeDash": [4, 2.5], "strokeWidth": 1.3},
       "encoding": {"x": {"datum": 0.00216, "type": "quantitative", "axis": {"orient": "bottom", "values": [4e-4,5e-4,6e-4,7e-4,8e-4,9e-4,2e-3,3e-3,4e-3,5e-3,6e-3,7e-3,8e-3,9e-3,0.01,0.02,0.03,0.04,0.05,0.06,0.07,0.08,0.09,0.2,0.3,0.4,0.5,0.6,0.7,0.8,0.9,1,2,3,4,5,6,7,8,9,20,30,40,50,60,70,80,90,100,200,300,400,500,600,700,800,900,2000,3000,4000,5000,6000,7000,8000,9000,10000,20000,30000,40000,50000,60000,70000,80000,90000], "labels": false, "domain": false, "title": null, "tickSize": -3, "minExtent": 0}}, "x2": {"datum": 0.0246}, "y": {"datum": 3740, "type": "quantitative", "axis": {"orient": "left", "values": [0.01, 1, 100, 10000], "labels": false, "domain": false, "title": null, "tickSize": -5, "minExtent": 0}}}},
      {"data": {"values": [{"label": "FSCP model"}]},
       "mark": {"type": "point", "shape": "square", "filled": true, "fill": "#ffffff", "stroke": "#e8232a", "strokeWidth": 1.4, "size": 100, "opacity": 1},
       "encoding": {"x": {"datum": 0.0073, "type": "quantitative", "axis": null}, "y": {"datum": 3740, "type": "quantitative", "axis": {"orient": "left", "values": [9e-4,2e-3,3e-3,4e-3,5e-3,6e-3,7e-3,8e-3,9e-3,0.02,0.03,0.04,0.05,0.06,0.07,0.08,0.09,0.2,0.3,0.4,0.5,0.6,0.7,0.8,0.9,2,3,4,5,6,7,8,9,20,30,40,50,60,70,80,90,200,300,400,500,600,700,800,900,2000,3000,4000,5000,6000,7000,8000,9000,20000], "labels": false, "domain": false, "title": null, "tickSize": -2.5, "minExtent": 0}}}},
      {"data": {"values": [{"label": "FSCP model"}]},
       "mark": {"type": "text", "align": "left", "baseline": "middle", "fontSize": 14},
       "encoding": {"x": {"datum": 0.0321, "type": "quantitative", "axis": null}, "y": {"datum": 3740, "type": "quantitative", "axis": null}, "text": {"field": "label"}}},
      {"data": {"values": [{"label": "DDEF model"}]},
       "mark": {"type": "rule", "color": "#2a2aa0", "strokeDash": [1.5, 1.5], "strokeWidth": 1.3},
       "encoding": {"x": {"datum": 0.00216, "type": "quantitative", "axis": null}, "x2": {"datum": 0.0246}, "y": {"datum": 982, "type": "quantitative", "axis": null}}},
      {"data": {"values": [{"label": "DDEF model"}]},
       "mark": {"type": "point", "shape": "square", "filled": true, "fill": "#15158a", "strokeWidth": 0, "size": 36, "opacity": 1},
       "encoding": {"x": {"datum": 0.0073, "type": "quantitative", "axis": null}, "y": {"datum": 982, "type": "quantitative", "axis": null}}},
      {"data": {"values": [{"label": "DDEF model"}]},
       "mark": {"type": "text", "align": "left", "baseline": "middle", "fontSize": 14},
       "encoding": {"x": {"datum": 0.0321, "type": "quantitative", "axis": null}, "y": {"datum": 982, "type": "quantitative", "axis": null}, "text": {"field": "label"}}},
      {"data": {"values": [{"label": "CA model"}]},
       "mark": {"type": "rule", "color": "#000000", "strokeWidth": 1.3},
       "encoding": {"x": {"datum": 0.00216, "type": "quantitative", "axis": null}, "x2": {"datum": 0.0246}, "y": {"datum": 254, "type": "quantitative", "axis": null}}},
      {"data": {"values": [{"label": "CA model"}]},
       "mark": {"type": "point", "shape": "circle", "filled": true, "fill": "#ffffff", "stroke": "#000000", "strokeWidth": 1.4, "size": 90, "opacity": 1},
       "encoding": {"x": {"datum": 0.0073, "type": "quantitative", "axis": null}, "y": {"datum": 254, "type": "quantitative", "axis": null}}},
      {"data": {"values": [{"label": "CA model"}]},
       "mark": {"type": "text", "align": "left", "baseline": "middle", "fontSize": 14},
       "encoding": {"x": {"datum": 0.0321, "type": "quantitative", "axis": null}, "y": {"datum": 254, "type": "quantitative", "axis": null}, "text": {"field": "label"}}}
    ],
    "resolve": {"axis": {"x": "independent", "y": "independent"}}
  }
]
}
